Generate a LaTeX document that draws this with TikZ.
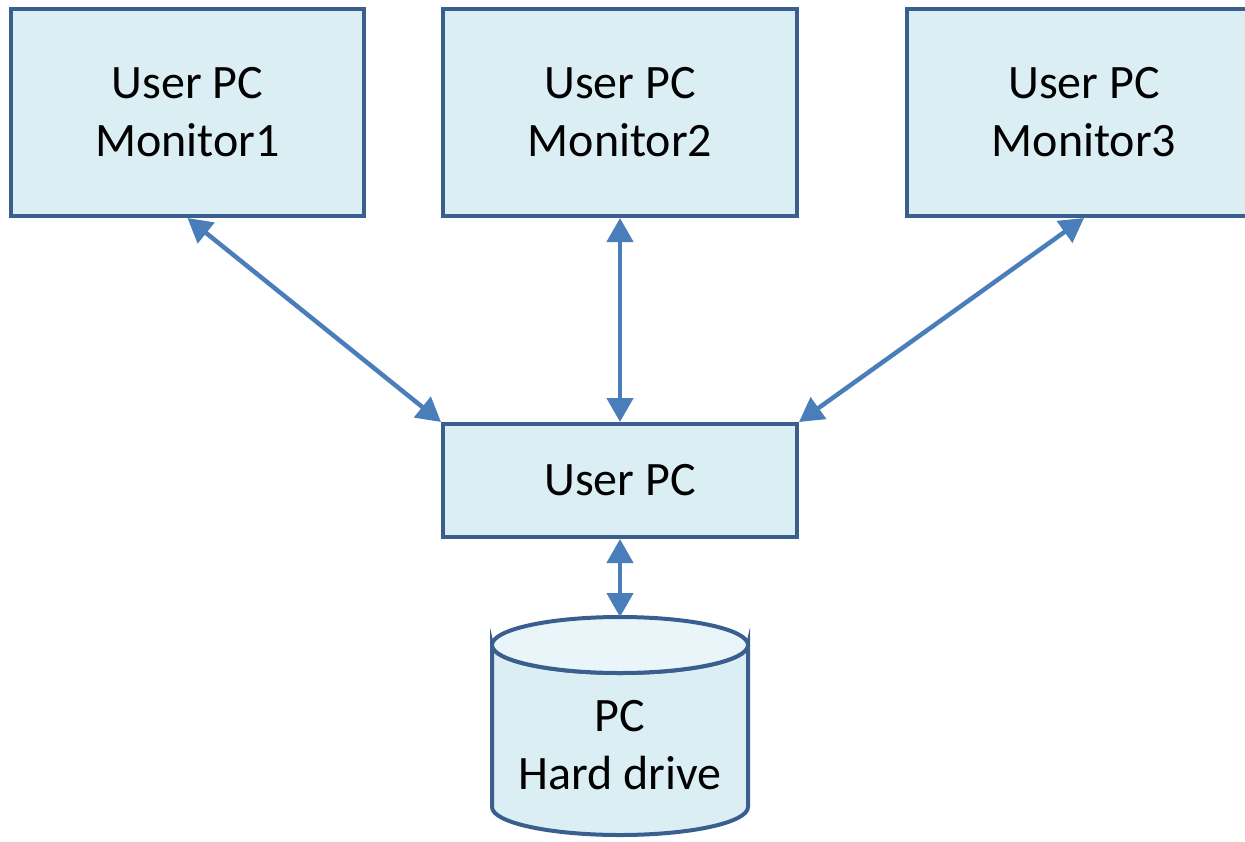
\documentclass[tikz,border=0pt]{standalone}
\usepackage{fontspec}
\setmainfont{Carlito}
\usetikzlibrary{arrows.meta}
\definecolor{boxfill}{HTML}{DBEEF4}
\definecolor{topfill}{HTML}{EAF5FA}
\definecolor{boxline}{HTML}{3A5F8F}
\definecolor{arrowc}{HTML}{4A7EBB}
\begin{document}
\begin{tikzpicture}[x=1pt,y=-1pt,
  box/.style={draw=boxline,fill=boxfill,line width=4pt,inner sep=0pt,align=center,
    font=\fontsize{48}{58}\selectfont},
  link/.style={draw=arrowc,line width=4.5pt,{Triangle[length=24pt,width=26pt]}-{Triangle[length=24pt,width=26pt]}}]
\clip (0,0) rectangle (1245,841);
\node[box,minimum width=353pt,minimum height=207pt] (m1) at (187.5,112.5) {User PC\\Monitor1};
\node[box,minimum width=354pt,minimum height=207pt] (m2) at (620,112.5) {User PC\\Monitor2};
\node[box,minimum width=354pt,minimum height=207pt] (m3) at (1084,112.5) {User PC\\Monitor3};
\node[box,minimum width=354pt,minimum height=113pt] (pc) at (620,480.5) {User PC};
% hard drive cylinder
\draw[draw=boxline,fill=boxfill,line width=4pt]
  (492,645) -- (492,807) arc[start angle=180,end angle=360,x radius=128,y radius=-28]
  -- (748,645) arc[start angle=0,end angle=180,x radius=128,y radius=28] -- cycle;
\draw[draw=boxline,fill=topfill,line width=4pt] (620,645) ellipse[x radius=128,y radius=28];
\coordinate (hdtop) at (620,617);
\node[font=\fontsize{48}{58}\selectfont,align=center] (hd) at (620,745) {PC\\Hard drive};
\draw[link] (m1.south) -- (pc.north west);
\draw[link] (m2.south) -- (pc.north);
\draw[link] (m3.south) -- (pc.north east);
\draw[link] (pc.south) -- (hdtop);
\end{tikzpicture}
\end{document}
